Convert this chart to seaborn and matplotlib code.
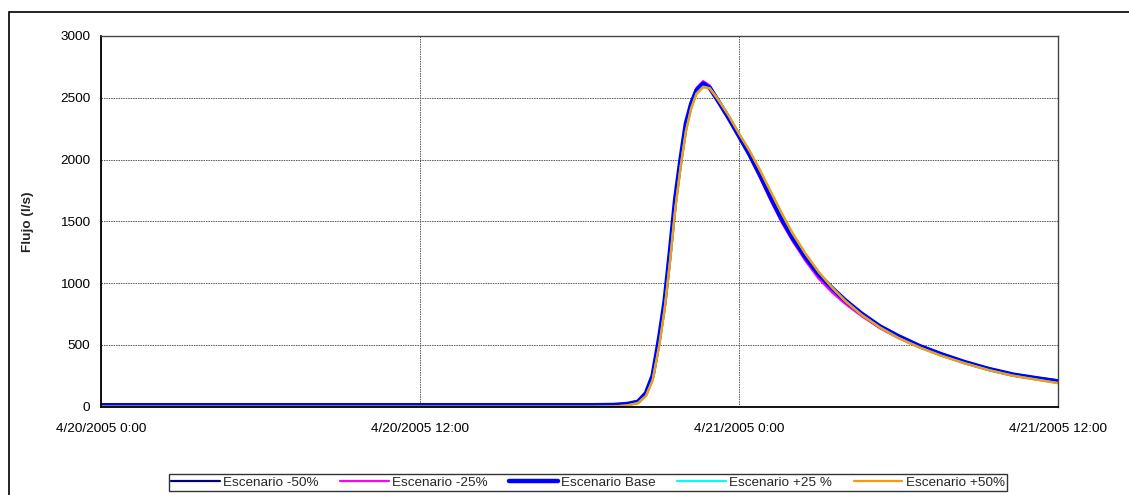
import pandas as pd
import seaborn as sns
import matplotlib.pyplot as plt
import matplotlib.dates as mdates
from matplotlib.patches import Rectangle
from matplotlib.ticker import FuncFormatter

# horas desde 4/20/2005 0:00
horas = [0, 18.5, 19.3, 19.8, 20.2, 20.5, 20.75, 21.0, 21.2, 21.4, 21.6, 21.8, 22.0,
         22.2, 22.4, 22.65, 22.9, 23.2, 23.6, 24.0, 24.4, 24.8, 25.2, 25.6, 26.0,
         26.5, 27.0, 27.5, 28.0, 28.6, 29.3, 30.0, 30.8, 31.6, 32.5, 33.4, 34.3,
         35.2, 36.0]

esc_m50 = [12, 12, 14, 22, 40, 112, 255, 565, 855, 1255, 1685, 2005, 2290,
           2450, 2560, 2612, 2578, 2478, 2338, 2188, 2038, 1868, 1688, 1520, 1372,
           1212, 1075, 965, 865, 760, 655, 575, 495, 430, 365, 310, 265,
           235, 212]
esc_m25 = [5, 5, 8, 18, 36, 105, 245, 555, 845, 1245, 1680, 2000, 2300,
           2470, 2580, 2635, 2600, 2490, 2345, 2185, 2025, 1850, 1665, 1495, 1345,
           1180, 1035, 925, 832, 735, 635, 555, 480, 418, 356, 300, 256,
           224, 195]
esc_base = [12, 12, 14, 22, 40, 110, 250, 560, 850, 1250, 1680, 2000, 2290,
            2450, 2560, 2615, 2580, 2480, 2340, 2190, 2040, 1870, 1690, 1520, 1370,
            1210, 1070, 960, 860, 755, 650, 570, 490, 425, 360, 305, 260,
            230, 205]
esc_p25 = [0, 0, 2, 11, 30, 88, 215, 500, 790, 1175, 1600, 1940, 2230,
           2415, 2535, 2590, 2578, 2492, 2362, 2212, 2072, 1910, 1738, 1568, 1408,
           1238, 1090, 965, 855, 745, 642, 557, 480, 414, 352, 297, 252,
           220, 192]
esc_p50 = [0, 0, 2, 10, 28, 85, 210, 490, 780, 1160, 1590, 1930, 2220,
           2410, 2530, 2585, 2575, 2490, 2360, 2210, 2070, 1910, 1740, 1570, 1410,
           1240, 1090, 965, 855, 745, 640, 555, 478, 412, 350, 295, 250,
           218, 190]

nombres = ["Escenario -50%", "Escenario -25%", "Escenario Base", "Escenario +25 %", "Escenario +50%"]
series = [esc_m50, esc_m25, esc_base, esc_p25, esc_p50]
colores = ["#000080", "#FF00FF", "#0000FF", "#00FFFF", "#FF9900"]
grosores = [1.6, 1.6, 3.2, 1.6, 1.6]

inicio = pd.Timestamp("2005-04-20 00:00")
tiempo = [inicio + pd.Timedelta(hours=h) for h in horas]

sns.set_style("white")
plt.rcParams["font.family"] = ["Liberation Sans", "DejaVu Sans"]

fig = plt.figure(figsize=(11.29, 4.95), dpi=100)
ax = fig.add_axes([101 / 1129, 1 - 406.7 / 495, (1058 - 101) / 1129, (406.7 - 36) / 495])

# marco exterior del grafico
fig.patches.append(Rectangle((9 / 1129, -0.1), 1.2, 1 - 12 / 495 + 0.1, transform=fig.transFigure,
                             fill=False, edgecolor="black", linewidth=1.2, zorder=0))

for nombre, valores, color, lw in zip(nombres, series, colores, grosores):
    sns.lineplot(x=tiempo, y=valores, ax=ax, color=color, linewidth=lw, label=nombre)

ax.set_xlim(inicio, inicio + pd.Timedelta(hours=36))
ax.set_ylim(0, 3000)
ax.set_yticks(range(0, 3001, 500))
ax.xaxis.set_major_locator(mdates.HourLocator(byhour=[0, 12]))
ax.xaxis.set_major_formatter(FuncFormatter(
    lambda v, p: (lambda d: f"{d.month}/{d.day}/{d.year} {d.hour}:{d.minute:02d}")(mdates.num2date(v))))

ax.grid(True, color="#555555", linestyle=(0, (1.5, 1)), linewidth=0.7)
ax.tick_params(axis="both", direction="out", length=3.6, width=1, labelsize=9.7, colors="black", pad=4)
ax.tick_params(axis="x", pad=8)
for lado in ["left", "bottom"]:
    ax.spines[lado].set_color("black")
    ax.spines[lado].set_linewidth(1.3)
for lado in ["top", "right"]:
    ax.spines[lado].set_color("#444444")
    ax.spines[lado].set_linewidth(1.0)

ax.set_xlabel("")
ax.set_ylabel("Flujo (l/s)", fontsize=9.7, fontweight="bold")
ax.yaxis.set_label_coords(-0.070, 0.5)

leg = ax.legend(loc="center", bbox_to_anchor=(588 / 1129, (495 - 482.5) / 495),
                bbox_transform=fig.transFigure, ncol=5, fontsize=9.7, frameon=True,
                fancybox=False, edgecolor="black", handlelength=3.6, columnspacing=1.6,
                handletextpad=0.25, borderpad=0.2)
leg.get_frame().set_linewidth(1.0)

fig.savefig("out.png", dpi=100)
